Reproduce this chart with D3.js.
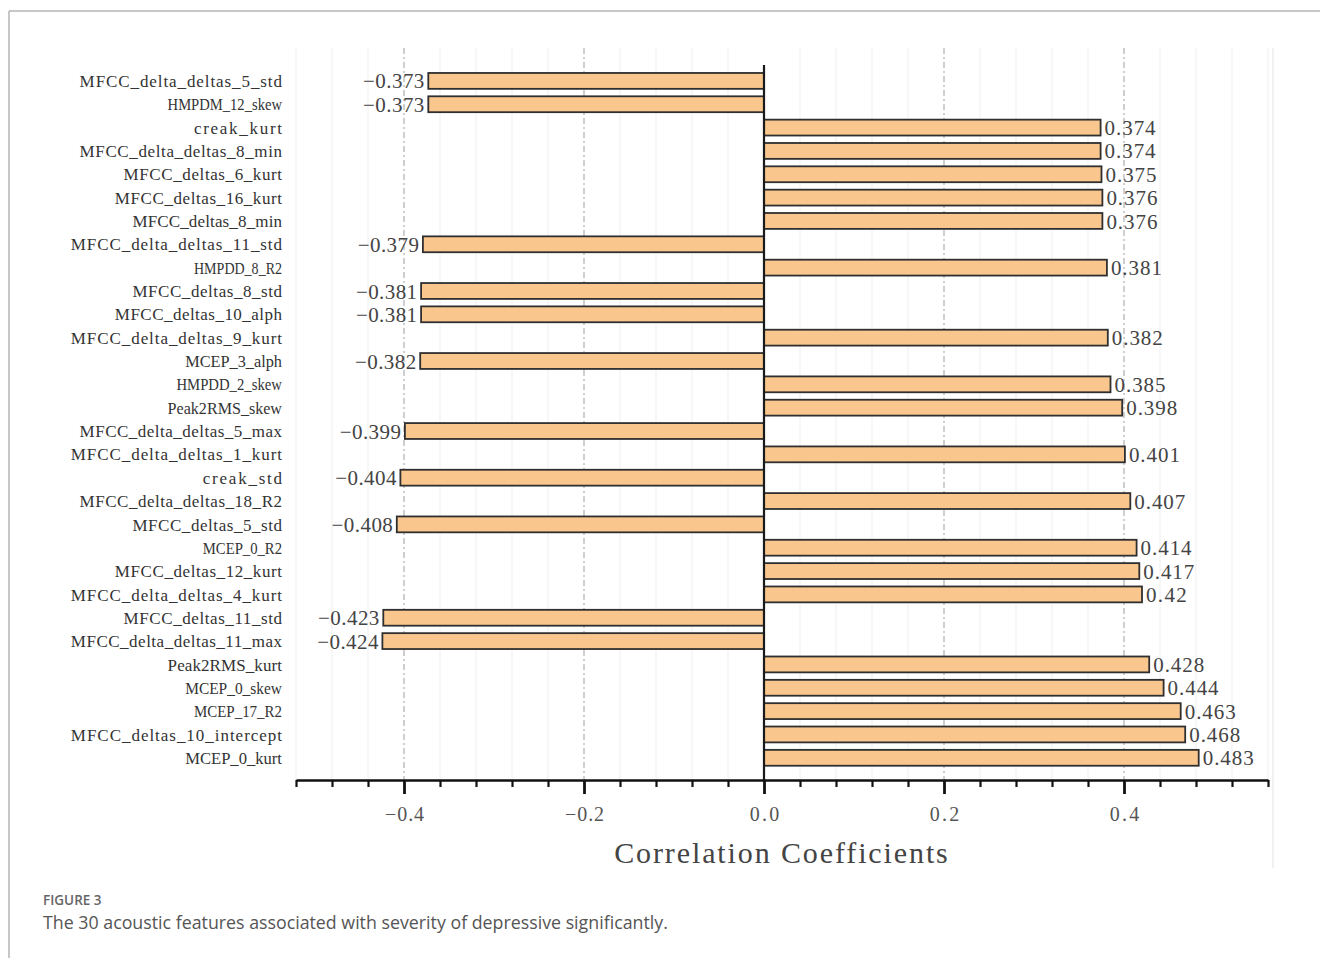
<!DOCTYPE html>
<html>
<head>
<meta charset="utf-8">
<script src="https://cdn.jsdelivr.net/npm/d3@7"></script>
<style>
  html, body { margin: 0; padding: 0; background: #fff; }
  svg { display: block; }
</style>
</head>
<body>
<svg id="chart" width="1320" height="958"></svg>
<script>
// Feature names, top to bottom
const features = [
  "MFCC_delta_deltas_5_std", "HMPDM_12_skew", "creak_kurt", "MFCC_delta_deltas_8_min",
  "MFCC_deltas_6_kurt", "MFCC_deltas_16_kurt", "MFCC_deltas_8_min", "MFCC_delta_deltas_11_std",
  "HMPDD_8_R2", "MFCC_deltas_8_std", "MFCC_deltas_10_alph", "MFCC_delta_deltas_9_kurt",
  "MCEP_3_alph", "HMPDD_2_skew", "Peak2RMS_skew", "MFCC_delta_deltas_5_max",
  "MFCC_delta_deltas_1_kurt", "creak_std", "MFCC_delta_deltas_18_R2", "MFCC_deltas_5_std",
  "MCEP_0_R2", "MFCC_deltas_12_kurt", "MFCC_delta_deltas_4_kurt", "MFCC_deltas_11_std",
  "MFCC_delta_deltas_11_max", "Peak2RMS_kurt", "MCEP_0_skew", "MCEP_17_R2",
  "MFCC_deltas_10_intercept", "MCEP_0_kurt"
];
// Correlation coefficient of each feature
const coefficients = [
  -0.373, -0.373, 0.374, 0.374, 0.375, 0.376, 0.376, -0.379,
  0.381, -0.381, -0.381, 0.382, -0.382, 0.385, 0.398, -0.399,
  0.401, -0.404, 0.407, -0.408, 0.414, 0.417, 0.42, -0.423,
  -0.424, 0.428, 0.444, 0.463, 0.468, 0.483
];
const majorTicks = [-0.4, -0.2, 0.0, 0.2, 0.4];
const minorTicks = [-0.52, -0.48, -0.44, -0.36, -0.32, -0.28, -0.24, -0.16, -0.12, -0.08, -0.04,
                    0.04, 0.08, 0.12, 0.16, 0.24, 0.28, 0.32, 0.36, 0.44, 0.48, 0.52, 0.56];
const axisTitle = "Correlation Coefficients";
const figureLabel = "FIGURE 3";
const captionText = "The 30 acoustic features associated with severity of depressive significantly.";

const svg = d3.select("#chart");
const serif = "'Liberation Serif', 'DejaVu Serif', serif";

// fixed-advance text, like a monospaced CJK serif face:
// wide strings are squeezed horizontally, narrow ones get extra spacing
function mono(sel, adv) {
  sel.each(function() {
    const target = this.textContent.length * adv;
    const natural = this.getComputedTextLength();
    d3.select(this).attr("textLength", target)
      .attr("lengthAdjust", natural > target ? "spacingAndGlyphs" : "spacing");
  });
}

const x = d3.scaleLinear().domain([-0.52, 0.56]).range([296, 1268]);
const y = d3.scaleBand().domain(features).range([65.5, 65.5 + 30 * 23.59]).padding(0.32);
const axisY = 780;

// figure frame
svg.append("line").attr("x1", 9).attr("x2", 1320).attr("y1", 11).attr("y2", 11)
  .attr("stroke", "#b5b5b5").attr("stroke-width", 1.5);
svg.append("line").attr("x1", 9).attr("x2", 9).attr("y1", 11).attr("y2", 958)
  .attr("stroke", "#b5b5b5").attr("stroke-width", 1.5);

// faint edge of the plot panel
svg.append("line").attr("x1", 1273).attr("x2", 1273).attr("y1", 48).attr("y2", 868)
  .attr("stroke", "#ececec").attr("stroke-width", 1.5);

// light minor grid
svg.append("g").selectAll("line").data(minorTicks).join("line")
  .attr("x1", d => x(d)).attr("x2", d => x(d))
  .attr("y1", 48).attr("y2", axisY)
  .attr("stroke", "#f2f2f2").attr("stroke-width", 1.2);

// dash-dot major grid
svg.append("g").selectAll("line").data(majorTicks.filter(d => d !== 0)).join("line")
  .attr("x1", d => x(d)).attr("x2", d => x(d))
  .attr("y1", 48).attr("y2", axisY)
  .attr("stroke", "#b0b0b0").attr("stroke-width", 1.2)
  .attr("stroke-dasharray", "6,3,2,3");

const rows = features.map((f, i) => ({ name: f, value: coefficients[i] }));

// bars
svg.append("g").selectAll("rect").data(rows).join("rect")
  .attr("x", d => x(Math.min(0, d.value)))
  .attr("y", d => y(d.name))
  .attr("width", d => Math.abs(x(d.value) - x(0)))
  .attr("height", y.bandwidth())
  .attr("fill", "#f9c68e")
  .attr("stroke", "#2f2f2f")
  .attr("stroke-width", 1.8);

// zero line
svg.append("line").attr("x1", x(0)).attr("x2", x(0)).attr("y1", 65).attr("y2", axisY)
  .attr("stroke", "#1a1a1a").attr("stroke-width", 2.2);

// value labels
svg.append("g").selectAll("text").data(rows).join("text")
  .attr("x", d => d.value < 0 ? x(d.value) - 4 : x(d.value) + 4)
  .attr("y", d => y(d.name) + y.bandwidth() / 2)
  .attr("dy", "0.36em")
  .attr("text-anchor", d => d.value < 0 ? "end" : "start")
  .attr("font-family", serif).attr("font-size", 21).attr("fill", "#444")
  .text(d => String(d.value).replace("-", "\u2212"))
  .call(mono, 10.2);

// feature labels
svg.append("g").selectAll("text").data(rows).join("text")
  .attr("x", 282)
  .attr("y", d => y(d.name) + y.bandwidth() / 2)
  .attr("dy", "0.36em")
  .attr("text-anchor", "end")
  .attr("font-family", serif).attr("font-size", 17).attr("fill", "#333")
  .text(d => d.name)
  .call(mono, 8.8);

// x axis: minor ticks
svg.append("g").attr("transform", `translate(0,${axisY})`)
  .call(d3.axisBottom(x).tickValues(minorTicks).tickSize(7).tickSizeOuter(0).tickFormat(""))
  .call(g => g.select(".domain").attr("stroke", "#111").attr("stroke-width", 2.5))
  .call(g => g.selectAll(".tick line").attr("stroke", "#111").attr("stroke-width", 2.2));

// x axis: major ticks and labels
svg.append("g").attr("transform", `translate(0,${axisY})`)
  .call(d3.axisBottom(x).tickValues(majorTicks).tickSize(14).tickSizeOuter(0).tickPadding(13)
        .tickFormat(d => d3.format(".1f")(d).replace("-", "\u2212")))
  .call(g => g.select(".domain").remove())
  .call(g => g.selectAll(".tick line").attr("stroke", "#111").attr("stroke-width", 2.8))
  .call(g => g.selectAll(".tick text")
    .attr("font-family", serif).attr("font-size", 20).attr("fill", "#555")
    .call(mono, 9.8));

// axis title
svg.append("text")
  .attr("x", 781).attr("y", 863)
  .attr("text-anchor", "middle")
  .attr("font-family", serif).attr("font-size", 30).attr("fill", "#444")
  .text(axisTitle)
  .call(mono, 13.9);

// caption
svg.append("text").attr("x", 43).attr("y", 905)
  .attr("font-family", "'Open Sans', Lato, sans-serif").attr("font-size", 13.5)
  .attr("font-weight", 600).attr("fill", "#666")
  .text(figureLabel);
svg.append("text").attr("x", 43).attr("y", 929)
  .attr("font-family", "'Open Sans', Lato, sans-serif").attr("font-size", 17.8)
  .attr("fill", "#555")
  .text(captionText);
</script>
</body>
</html>
